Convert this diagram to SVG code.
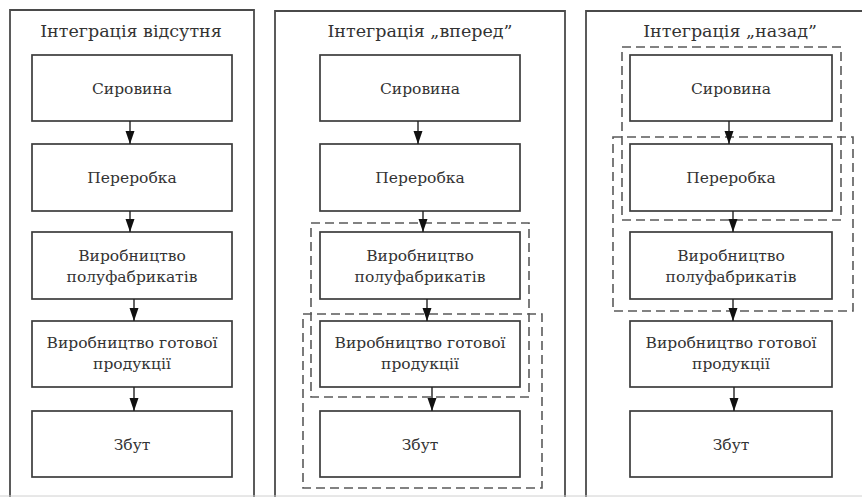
<svg xmlns="http://www.w3.org/2000/svg" width="862" height="497" viewBox="0 0 862 497">
  <defs>
    <marker id="arrow" markerUnits="userSpaceOnUse" markerWidth="14" markerHeight="10" refX="13" refY="4.5" orient="auto">
      <path d="M0,0 L13,4.5 L0,9 Z" fill="#111"/>
    </marker>
    <style>
      .frame { fill: none; stroke: #4a4a4a; stroke-width: 1.8; }
      .box { fill: #fff; stroke: #3c3c3c; stroke-width: 1.7; }
      .group { fill: none; stroke: #5a5a5a; stroke-width: 1.6; stroke-dasharray: 9 5; }
      .title { font-family: 'DejaVu Serif', serif; font-size: 17.5px; fill: #333; text-anchor: middle; }
      .label { font-family: 'DejaVu Serif', serif; font-size: 15.5px; fill: #333; text-anchor: middle; }
      .link { fill: none; stroke: #222; stroke-width: 1.4; marker-end: url(#arrow); }
    </style>
  </defs>
  <rect width="862" height="497" fill="#fff"/>

  <!-- panel frames -->
  <g id="frames">
    <path class="frame" d="M10,499 V10 H254 V499"/>
    <path class="frame" d="M275,499 V11 H565 V499"/>
    <path class="frame" d="M586,499 V11 H870"/>
    <line x1="0" y1="496" x2="862" y2="496" stroke="#d0d0d0" stroke-width="1"/>
  </g>

  <!-- panel 1: no integration -->
  <g id="panel-none">
    <text class="title" x="131" y="37">Інтеграція відсутня</text>
    <g id="n1-raw"><rect class="box" x="32" y="55" width="200" height="66"/><text class="label" x="132" y="94">Сировина</text></g>
    <g id="n1-proc"><rect class="box" x="32" y="144" width="200" height="67"/><text class="label" x="132" y="183">Переробка</text></g>
    <g id="n1-semi"><rect class="box" x="32" y="232" width="200" height="67"/><text class="label" x="132" y="261">Виробництво</text><text class="label" x="132" y="282">полуфабрикатів</text></g>
    <g id="n1-final"><rect class="box" x="32" y="321" width="200" height="66"/><text class="label" x="132" y="348">Виробництво готової</text><text class="label" x="132" y="369">продукції</text></g>
    <g id="n1-sales"><rect class="box" x="32" y="411" width="200" height="66"/><text class="label" x="132" y="450">Збут</text></g>
  </g>

  <!-- panel 2: forward integration -->
  <g id="panel-forward">
    <text class="title" x="420" y="37">Інтеграція „вперед”</text>
    <g id="n2-raw"><rect class="box" x="320" y="55" width="200" height="66"/><text class="label" x="420" y="94">Сировина</text></g>
    <g id="n2-proc"><rect class="box" x="320" y="144" width="200" height="67"/><text class="label" x="420" y="183">Переробка</text></g>
    <g id="n2-semi"><rect class="box" x="320" y="232" width="200" height="67"/><text class="label" x="420" y="261">Виробництво</text><text class="label" x="420" y="282">полуфабрикатів</text></g>
    <g id="n2-final"><rect class="box" x="320" y="321" width="200" height="66"/><text class="label" x="420" y="348">Виробництво готової</text><text class="label" x="420" y="369">продукції</text></g>
    <g id="n2-sales"><rect class="box" x="320" y="411" width="200" height="66"/><text class="label" x="420" y="450">Збут</text></g>
    <rect id="g2-a" class="group" x="311" y="223" width="218" height="174"/>
    <rect id="g2-b" class="group" x="303" y="314" width="239" height="174"/>
  </g>

  <!-- panel 3: backward integration -->
  <g id="panel-backward">
    <text class="title" x="730" y="37">Інтеграція „назад”</text>
    <g id="n3-raw"><rect class="box" x="630" y="55" width="202" height="66"/><text class="label" x="731" y="94">Сировина</text></g>
    <g id="n3-proc"><rect class="box" x="630" y="144" width="202" height="67"/><text class="label" x="731" y="183">Переробка</text></g>
    <g id="n3-semi"><rect class="box" x="630" y="232" width="202" height="67"/><text class="label" x="731" y="261">Виробництво</text><text class="label" x="731" y="282">полуфабрикатів</text></g>
    <g id="n3-final"><rect class="box" x="630" y="321" width="202" height="66"/><text class="label" x="731" y="348">Виробництво готової</text><text class="label" x="731" y="369">продукції</text></g>
    <g id="n3-sales"><rect class="box" x="630" y="411" width="202" height="66"/><text class="label" x="731" y="450">Збут</text></g>
    <rect id="g3-a" class="group" x="622" y="47" width="219" height="173"/>
    <rect id="g3-b" class="group" x="613" y="137" width="240" height="174"/>
  </g>

  <!-- connectors -->
  <g id="connectors">
    <line class="link" x1="130" y1="121" x2="130" y2="144"/>
    <line class="link" x1="130" y1="211" x2="130" y2="232"/>
    <line class="link" x1="134" y1="299" x2="134" y2="321"/>
    <line class="link" x1="134" y1="387" x2="134" y2="411"/>

    <line class="link" x1="418" y1="121" x2="418" y2="144"/>
    <line class="link" x1="423" y1="211" x2="423" y2="232"/>
    <line class="link" x1="427" y1="299" x2="427" y2="321"/>
    <line class="link" x1="432" y1="387" x2="432" y2="411"/>

    <line class="link" x1="729" y1="121" x2="729" y2="144"/>
    <line class="link" x1="733" y1="211" x2="733" y2="232"/>
    <line class="link" x1="733" y1="299" x2="733" y2="321"/>
    <line class="link" x1="734" y1="387" x2="734" y2="411"/>
  </g>
</svg>
